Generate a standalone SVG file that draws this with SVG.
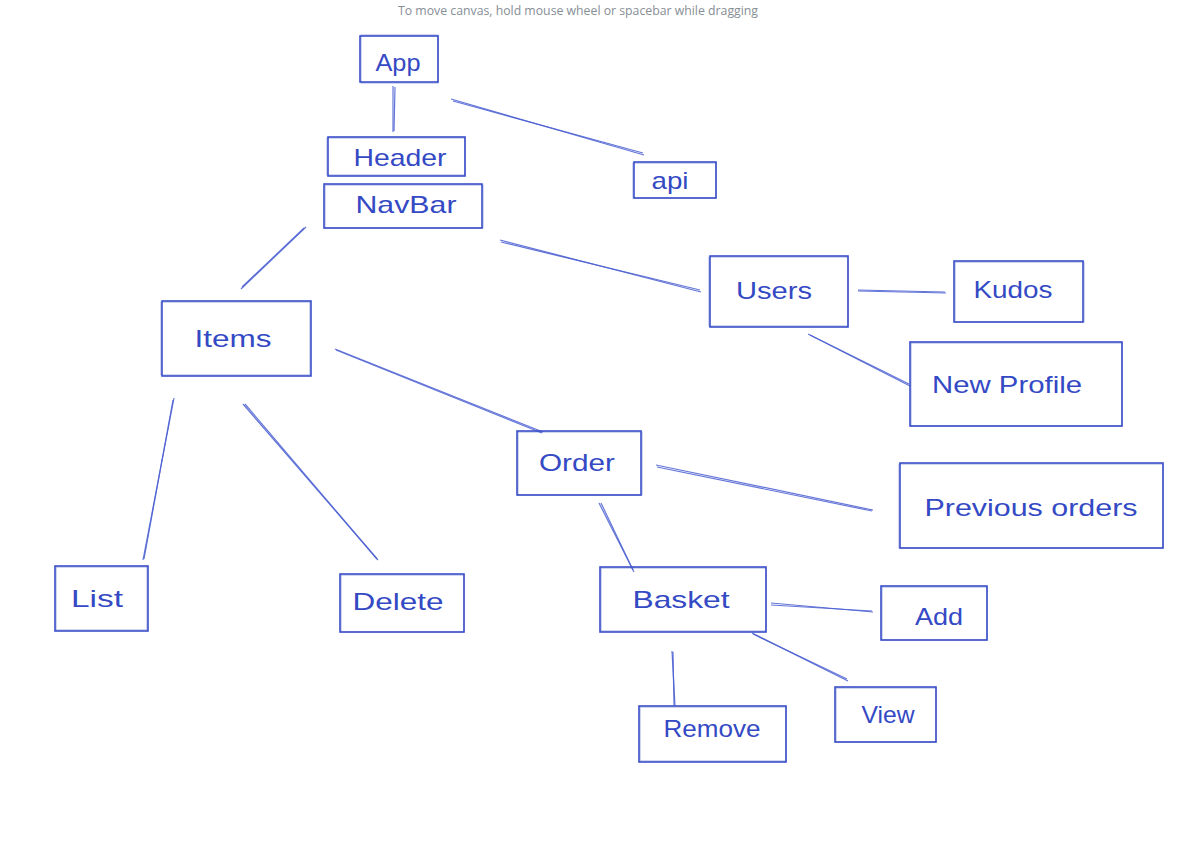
<svg xmlns="http://www.w3.org/2000/svg" width="1193" height="856" viewBox="0 0 1193 856">
<style>
.box{fill:none;stroke:#3b50c9;stroke-width:1.6}
.box2{fill:none;stroke:#3b50c9;stroke-width:0.8;opacity:0.6}
.lbl{font-family:"Liberation Sans","DejaVu Sans",sans-serif;font-size:24px;fill:#3449c4;text-anchor:middle;dominant-baseline:central}
.con line{stroke:#4a5fd2;stroke-width:1.2;opacity:0.85}
.hint{font-family:"Open Sans","Liberation Sans",sans-serif;font-size:12.3px;fill:#868e96;text-anchor:middle}
</style>
<rect width="1193" height="856" fill="#ffffff"/>
<text class="hint" x="578" y="15" textLength="360" lengthAdjust="spacingAndGlyphs">To move canvas, hold mouse wheel or spacebar while dragging</text>
<g id="connectors" class="con">
<line x1="393" y1="86" x2="393" y2="132"/><line x1="395" y1="87" x2="394" y2="131"/>
<line x1="451" y1="99" x2="644" y2="155"/><line x1="453" y1="101" x2="643" y2="153"/>
<line x1="306" y1="227" x2="241" y2="289"/><line x1="304" y1="228" x2="242" y2="287"/>
<line x1="500" y1="240" x2="701" y2="292"/><line x1="501" y1="242" x2="700" y2="290"/>
<line x1="858" y1="290" x2="945" y2="292"/><line x1="858" y1="291" x2="946" y2="293"/>
<line x1="808" y1="334" x2="910" y2="386"/><line x1="810" y1="335" x2="909" y2="384"/>
<line x1="174" y1="398" x2="143" y2="560"/><line x1="173" y1="400" x2="144" y2="559"/>
<line x1="243" y1="404" x2="378" y2="560"/><line x1="245" y1="404" x2="377" y2="559"/>
<line x1="335" y1="349" x2="543" y2="432"/><line x1="336" y1="350" x2="542" y2="433"/>
<line x1="656" y1="465" x2="873" y2="510"/><line x1="657" y1="467" x2="872" y2="511"/>
<line x1="599" y1="503" x2="634" y2="572"/><line x1="601" y1="503" x2="633" y2="570"/>
<line x1="771" y1="603" x2="873" y2="612"/><line x1="771" y1="605" x2="872" y2="611"/>
<line x1="752" y1="633" x2="848" y2="681"/><line x1="753" y1="634" x2="847" y2="679"/>
<line x1="672" y1="651" x2="675" y2="706"/><line x1="673" y1="652" x2="674" y2="705"/>
</g>
<g id="app"><rect class="box" x="360" y="36" width="78" height="46"/><rect class="box2" x="361" y="35" width="77" height="48"/><text class="lbl" x="398" y="62" textLength="45" lengthAdjust="spacingAndGlyphs">App</text></g>
<g id="header"><rect class="box" x="328" y="137" width="137" height="39"/><rect class="box2" x="327" y="138" width="138" height="37"/><text class="lbl" x="400" y="157" textLength="93" lengthAdjust="spacingAndGlyphs">Header</text></g>
<g id="navbar"><rect class="box" x="324" y="184" width="158" height="44"/><rect class="box2" x="325" y="185" width="158" height="43"/><text class="lbl" x="406" y="204" textLength="101" lengthAdjust="spacingAndGlyphs">NavBar</text></g>
<g id="api"><rect class="box" x="634" y="162" width="82" height="36"/><rect class="box2" x="633" y="163" width="83" height="35"/><text class="lbl" x="670" y="180" textLength="37" lengthAdjust="spacingAndGlyphs">api</text></g>
<g id="users"><rect class="box" x="710" y="256" width="138" height="71"/><rect class="box2" x="709" y="257" width="139" height="69"/><text class="lbl" x="774" y="290" textLength="76" lengthAdjust="spacingAndGlyphs">Users</text></g>
<g id="kudos"><rect class="box" x="954" y="261" width="129" height="61"/><rect class="box2" x="955" y="262" width="129" height="60"/><text class="lbl" x="1013" y="289" textLength="79" lengthAdjust="spacingAndGlyphs">Kudos</text></g>
<g id="newprofile"><rect class="box" x="910" y="342" width="212" height="84"/><rect class="box2" x="911" y="343" width="211" height="83"/><text class="lbl" x="1007" y="384" textLength="150" lengthAdjust="spacingAndGlyphs">New Profile</text></g>
<g id="items"><rect class="box" x="162" y="301" width="149" height="75"/><rect class="box2" x="161" y="302" width="149" height="73"/><text class="lbl" x="233" y="338" textLength="77" lengthAdjust="spacingAndGlyphs">Items</text></g>
<g id="order"><rect class="box" x="517" y="431" width="124" height="64"/><rect class="box2" x="518" y="432" width="124" height="63"/><text class="lbl" x="577" y="462" textLength="76" lengthAdjust="spacingAndGlyphs">Order</text></g>
<g id="previousorders"><rect class="box" x="900" y="463" width="263" height="85"/><rect class="box2" x="899" y="464" width="264" height="84"/><text class="lbl" x="1031" y="507" textLength="213" lengthAdjust="spacingAndGlyphs">Previous orders</text></g>
<g id="list"><rect class="box" x="55" y="566" width="93" height="65"/><rect class="box2" x="56" y="567" width="91" height="63"/><text class="lbl" x="97" y="598" textLength="52" lengthAdjust="spacingAndGlyphs">List</text></g>
<g id="delete"><rect class="box" x="340" y="574" width="124" height="58"/><rect class="box2" x="341" y="575" width="123" height="57"/><text class="lbl" x="398" y="601" textLength="91" lengthAdjust="spacingAndGlyphs">Delete</text></g>
<g id="basket"><rect class="box" x="600" y="567" width="166" height="65"/><rect class="box2" x="601" y="568" width="165" height="63"/><text class="lbl" x="681" y="599" textLength="97" lengthAdjust="spacingAndGlyphs">Basket</text></g>
<g id="add"><rect class="box" x="881" y="586" width="106" height="54"/><rect class="box2" x="882" y="587" width="105" height="53"/><text class="lbl" x="939" y="616" textLength="48" lengthAdjust="spacingAndGlyphs">Add</text></g>
<g id="remove"><rect class="box" x="639" y="706" width="147" height="56"/><rect class="box2" x="640" y="707" width="146" height="54"/><text class="lbl" x="712" y="728" textLength="97" lengthAdjust="spacingAndGlyphs">Remove</text></g>
<g id="view"><rect class="box" x="835" y="687" width="101" height="55"/><rect class="box2" x="836" y="688" width="100" height="54"/><text class="lbl" x="888" y="714" textLength="53" lengthAdjust="spacingAndGlyphs">View</text></g>
</svg>
